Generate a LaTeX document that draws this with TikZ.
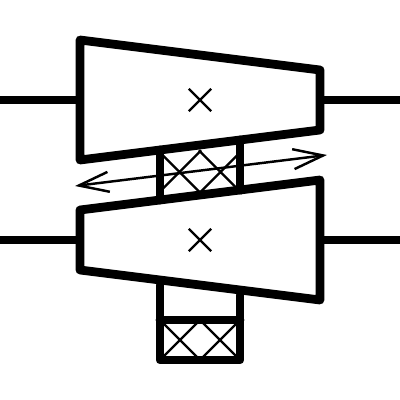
\documentclass[tikz,border=0pt]{standalone}
\usetikzlibrary{arrows.meta,shapes.misc}
\begin{document}
\begin{tikzpicture}
	% two stages on a common bearing frame, with a mark on each stage
	[heavy/.style={line width=5pt,line join=round,line cap=round},
	light/.style={line width=1.4pt},
	mark x/.style={cross out,draw,light,inner sep=0pt,minimum size=0.4cm},
	cell/.style={cross out,draw,light,inner sep=0pt,minimum size=0.8cm},
	>={Straight Barb[length=0.6cm,width=0.4cm]}]
	\useasboundingbox (0,0) rectangle (8,8);

	\coordinate (a1) at (1.6,7.2);
	\coordinate (a2) at (6.4,6.6);
	\coordinate (a3) at (6.4,5.4);
	\coordinate (a4) at (1.6,4.8);
	\coordinate (b1) at (1.6,3.8);
	\coordinate (b2) at (6.4,4.4);
	\coordinate (b3) at (6.4,2);
	\coordinate (b4) at (1.6,2.6);

	\coordinate (lefta) at (0,6);
	\coordinate (righta) at (8,6);
	\coordinate (ina) at (1.6,6);
	\coordinate (outa) at (6.4,6);
	\coordinate (leftb) at (0,3.2);
	\coordinate (rightb) at (8,3.2);
	\coordinate (inb) at (1.6,3.2);
	\coordinate (outb) at (6.4,3.2);

	\coordinate (u1) at (3.2,5);
	\coordinate (u2) at (3.2,4);
	\coordinate (u3) at (4.8,5.2);
	\coordinate (u4) at (4.8,4.2);
	\coordinate (l1) at (3.2,2.3);
	\coordinate (l2) at (3.2,0.8);
	\coordinate (l3) at (4.8,2.1);
	\coordinate (l4) at (4.8,0.8);
	\coordinate (m1) at (3.2,1.6);
	\coordinate (m2) at (4.8,1.6);

	\node[cell,minimum size=0.82cm] (c1) at (3.59,4.56) {};
	\node[cell,minimum size=0.82cm] (c2) at (4.41,4.56) {};
	\node[cell] (c3) at (3.6,1.2) {};
	\node[cell] (c4) at (4.4,1.2) {};

	\draw[heavy] (u1) -- (u2);
	\draw[heavy] (u3) -- (u4);
	\draw[heavy] (l1) -- (l2) -- (l4) -- (l3);
	\draw[heavy] (m1) -- (m2);

	\draw[heavy] (a1) -- (a2) -- (a3) -- (a4) -- cycle;
	\draw[heavy] (b1) -- (b2) -- (b3) -- (b4) -- cycle;

	\draw[heavy,line cap=butt] (lefta) -- (ina);
	\draw[heavy,line cap=butt] (outa) -- (righta);
	\draw[heavy,line cap=butt] (leftb) -- (inb);
	\draw[heavy,line cap=butt] (outb) -- (rightb);

	\node[mark x] (xa) at (4,6) {};
	\node[mark x] (xb) at (4,3.2) {};

	\coordinate (tipl) at (1.5,4.28);
	\coordinate (tipr) at (6.54,4.9);
	\draw[light,<->] (tipl) -- (tipr);
\end{tikzpicture}
\end{document}
